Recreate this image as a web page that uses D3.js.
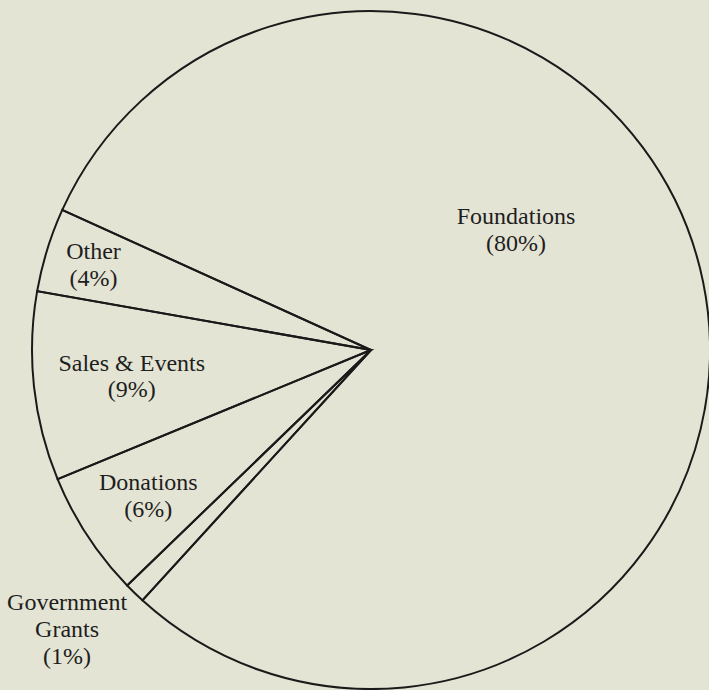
<!DOCTYPE html>
<html>
<head>
<meta charset="utf-8">
<script src="https://cdn.jsdelivr.net/npm/d3@7"></script>
<style>
  html, body { margin: 0; padding: 0; background: #e4e4d4; overflow: hidden; }
  svg { display: block; }
</style>
</head>
<body>
<svg id="viz" width="709" height="690"></svg>
<script>
// Data

var categories = ["Foundations", "Government Grants", "Donations", "Sales & Events", "Other"],
    shares = [80, 1, 6, 9, 4];

// Label placement (fraction of radius, optional angle override in degrees)

var label_radius = [0.557, 1.218, 0.785, 0.71, 0.857],
    label_angle = [50.2, 227.4, null, null, null],
    label_lines = [["Foundations"], ["Government", "Grants"], ["Donations"], ["Sales & Events"], ["Other"]];

var svg = d3.select("svg"),
    width = +svg.attr("width"),
    height = +svg.attr("height");

var cx = 371, cy = 350, radius = 339;
var font_size = 24, line_h = 27;

var pie = d3.pie()
    .sort(null)
    .startAngle(-65.6 * Math.PI / 180)
    .endAngle((360 - 65.6) * Math.PI / 180);

var arcs = pie(shares);

var arc = d3.arc()
    .innerRadius(0)
    .outerRadius(radius);

var g = svg.append("g")
    .attr("transform", "translate(" + cx + "," + cy + ")");

// Draw slices

g.append("g")
    .attr("class", "slices")
  .selectAll("path")
  .data(arcs)
  .enter().append("path")
    .attr("d", arc)
    .attr("fill", "none")
    .attr("stroke", "#1a1a1a")
    .attr("stroke-width", 2)
    .attr("stroke-linejoin", "miter");

// Labels

var labels = g.append("g")
    .attr("class", "labels")
    .attr("font-family", "'Liberation Serif', 'Times New Roman', serif")
    .attr("font-size", font_size)
    .attr("fill", "#1e1e1e")
    .attr("text-anchor", "middle");

arcs.forEach(function(d, i) {
    var k = label_radius[i] * radius;
    var a = label_angle[i] != null ? label_angle[i] * Math.PI / 180 : (d.startAngle + d.endAngle) / 2;
    var x = Math.sin(a) * k,
        y = -Math.cos(a) * k;
    var lines = label_lines[i].concat(["(" + shares[i] + "%)"]);
    var n = lines.length;
    var t = labels.append("text");
    lines.forEach(function(s, j) {
        t.append("tspan")
            .attr("x", x)
            .attr("y", y + (j - (n - 1) / 2) * line_h + 8)
            .text(s);
    });
});
</script>
</body>
</html>
